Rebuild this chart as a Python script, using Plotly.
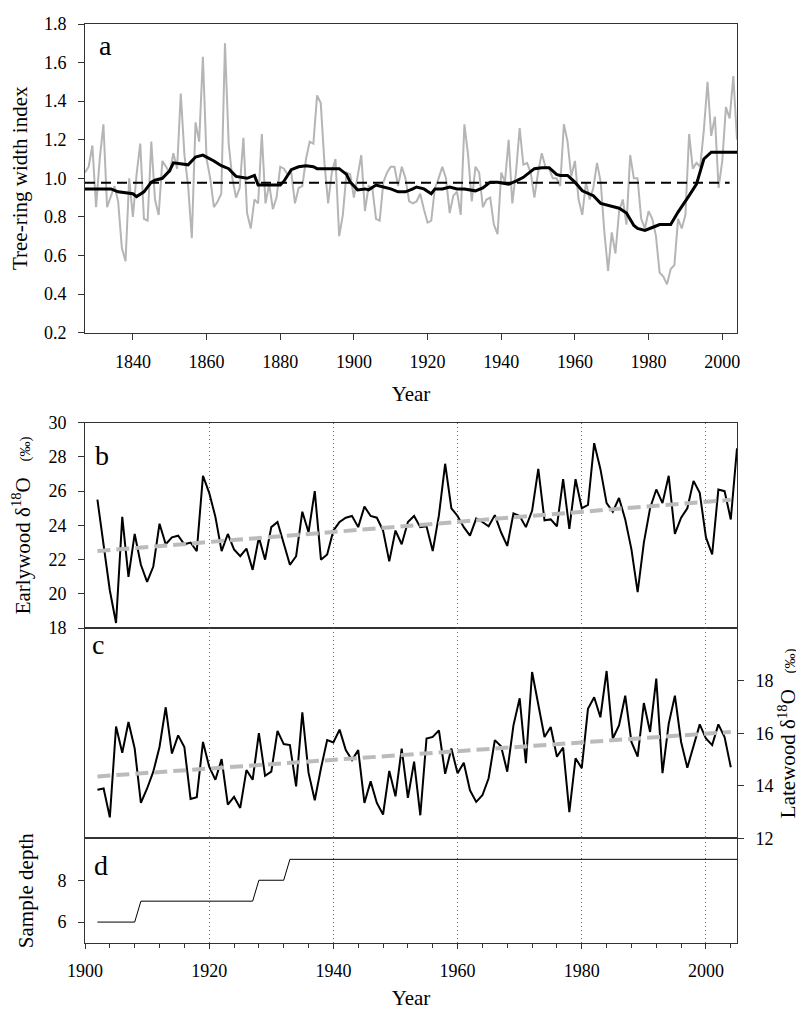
import plotly.graph_objects as go

# ---- panel a : tree-ring width index ----
ring_years = list(range(1827, 2005))
ring_index = [
    1.03, 1.06, 1.17, 0.85, 1.10, 1.28, 0.85, 0.91, 0.96, 0.88,   # 1827-1836
    0.64, 0.57, 1.00, 0.80, 1.02, 1.18, 0.79, 0.78, 1.19, 0.89,   # 1837-1846
    0.81, 1.09, 1.06, 1.03, 1.13, 1.05, 1.44, 1.12, 0.96, 0.69,   # 1847-1856
    1.29, 1.19, 1.63, 1.10, 1.00, 0.85, 0.88, 0.92, 1.70, 1.18,   # 1857-1866
    1.00, 0.90, 0.95, 1.21, 0.82, 0.74, 0.89, 0.87, 1.23, 0.87,   # 1867-1876
    0.97, 0.84, 0.90, 1.06, 1.05, 1.02, 1.03, 0.87, 0.95, 0.96,   # 1877-1886
    1.10, 1.19, 1.18, 1.43, 1.39, 1.08, 0.87, 1.03, 1.10, 0.70,   # 1887-1896
    0.81, 1.03, 1.02, 0.90, 1.01, 1.12, 0.83, 0.96, 0.95, 0.79,   # 1897-1906
    0.78, 0.98, 1.03, 1.06, 1.06, 0.96, 1.06, 1.00, 0.88, 0.87,   # 1907-1916
    0.88, 0.92, 0.84, 0.77, 0.78, 0.95, 1.00, 1.06, 1.00, 0.82,   # 1917-1926
    0.91, 0.93, 0.81, 1.28, 1.12, 0.88, 1.06, 1.03, 0.85, 0.89,   # 1927-1936
    0.90, 0.76, 0.71, 1.03, 0.98, 1.20, 0.87, 1.03, 1.26, 1.07,   # 1937-1946
    1.08, 1.03, 0.90, 1.03, 1.13, 1.06, 1.05, 1.00, 1.00, 0.96,   # 1947-1956
    1.28, 1.19, 1.01, 1.09, 0.89, 0.81, 0.98, 0.89, 0.95, 1.08,   # 1957-1966
    0.98, 0.72, 0.52, 0.72, 0.61, 0.83, 0.89, 0.76, 1.12, 1.00,   # 1967-1976
    1.00, 0.79, 0.74, 0.83, 0.79, 0.70, 0.51, 0.49, 0.45, 0.53,   # 1977-1986
    0.55, 0.79, 0.74, 0.81, 1.23, 1.05, 1.08, 1.06, 1.25, 1.50,   # 1987-1996
    1.22, 1.32, 0.95, 1.09, 1.37, 1.31, 1.53, 1.20,               # 1997-2004
]
smooth_years = [
    1827, 1834, 1836, 1838, 1840, 1841, 1843, 1845, 1846, 1848, 1850, 1851,
    1853, 1855, 1857, 1859, 1860, 1862, 1864, 1866, 1868, 1870, 1871, 1873,
    1874, 1880, 1881, 1883, 1885, 1887, 1889, 1890, 1896, 1898, 1899, 1901,
    1903, 1904, 1906, 1908, 1910, 1912, 1914, 1916, 1917, 1919, 1921, 1922,
    1924, 1926, 1928, 1930, 1933, 1935, 1937, 1939, 1942, 1944, 1946, 1947,
    1949, 1951, 1953, 1955, 1956, 1958, 1960, 1962, 1965, 1967, 1969, 1972,
    1974, 1975, 1976, 1977, 1979, 1981, 1983, 1986, 1988, 1991, 1993, 1995,
    1997, 2004,
]
smooth_index = [
    0.945, 0.945, 0.93, 0.925, 0.92, 0.905, 0.93, 0.98, 0.99, 1.0, 1.04, 1.08,
    1.075, 1.07, 1.11, 1.12, 1.11, 1.09, 1.065, 1.05, 1.01, 1.005, 1.0, 1.015,
    0.965, 0.965, 0.985, 1.045, 1.06, 1.065, 1.06, 1.05, 1.05, 1.02, 0.98, 0.94,
    0.945, 0.94, 0.965, 0.955, 0.945, 0.93, 0.93, 0.945, 0.955, 0.945, 0.92, 0.945,
    0.945, 0.955, 0.945, 0.945, 0.935, 0.95, 0.98, 0.98, 0.97, 0.985, 1.005, 1.02,
    1.05, 1.055, 1.055, 1.02, 1.015, 1.015, 0.98, 0.935, 0.91, 0.87, 0.86, 0.845,
    0.82, 0.79, 0.755, 0.74, 0.73, 0.745, 0.76, 0.76, 0.825, 0.91, 0.97, 1.10,
    1.135, 1.135,
]
mean_years = [1827, 2002]
mean_index = [0.977, 0.977]

# ---- panel b : earlywood d18O ----
early_years = list(range(1902, 2006))
early_d18o = [
    25.5, 22.7, 20.2, 18.3, 24.5, 21.0, 23.5, 21.7, 20.7, 21.6,   # 1902-1911
    24.1, 22.9, 23.3, 23.4, 22.9, 23.0, 22.5, 26.9, 25.9, 24.5,   # 1912-1921
    22.5, 23.5, 22.6, 22.2, 22.65, 21.4, 23.3, 22.0, 23.9, 24.2,  # 1922-1931
    23.0, 21.7, 22.2, 24.8, 23.6, 26.0, 22.0, 22.3, 23.7, 24.2,   # 1932-1941
    24.45, 24.55, 23.9, 25.1, 24.55, 24.45, 23.7, 21.9, 23.7, 22.9,  # 1942-1951
    24.2, 24.55, 23.9, 23.95, 22.5, 24.6, 27.6, 25.0, 24.55, 23.9,  # 1952-1961
    23.4, 24.4, 24.2, 23.95, 24.6, 23.6, 22.8, 24.7, 24.55, 23.9,   # 1962-1971
    24.85, 27.3, 24.3, 24.35, 23.95, 26.7, 23.8, 26.7, 25.0, 25.2,  # 1972-1981
    28.8, 27.3, 25.3, 24.8, 25.6, 24.35, 22.6, 20.1, 23.0, 25.0,    # 1982-1991
    26.1, 25.3, 26.9, 23.5, 24.45, 25.0, 26.6, 25.9, 23.3, 22.3,    # 1992-2001
    26.1, 26.0, 24.35, 28.5,                                        # 2002-2005
]
early_trend_years = [1902, 2004]
early_trend = [22.5, 25.5]

# ---- panel c : latewood d18O ----
late_years = list(range(1902, 2005))
late_d18o = [
    13.85, 13.9, 12.8, 16.26, 15.26, 16.43, 15.42, 13.35, 13.9, 14.54,   # 1902-1911
    15.48, 16.99, 15.23, 15.92, 15.48, 13.5, 13.57, 15.67, 14.73, 14.23,  # 1912-1921
    15.02, 13.29, 13.58, 13.16, 14.6, 14.23, 16.01, 14.38, 14.54, 16.09,  # 1922-1931
    15.59, 15.55, 13.98, 16.8, 14.5, 13.45, 14.67, 15.74, 15.65, 16.14,   # 1932-1941
    15.36, 14.98, 15.36, 13.35, 14.17, 13.35, 12.91, 14.57, 13.6, 15.42,  # 1942-1951
    13.54, 14.92, 12.88, 15.8, 15.86, 16.11, 14.46, 15.42, 14.48, 14.88,  # 1952-1961
    13.83, 13.39, 13.64, 14.29, 15.74, 15.51, 14.54, 16.3, 17.33, 14.86,  # 1962-1971
    18.33, 17.12, 15.86, 16.24, 15.11, 15.46, 13.0, 15.05, 14.67, 16.93,  # 1972-1981
    17.37, 16.61, 18.37, 15.8, 16.3, 17.43, 15.67, 15.11, 17.15, 16.05,   # 1982-1991
    18.08, 14.48, 16.36, 17.43, 15.67, 14.69, 15.55, 16.34, 15.8, 15.55,  # 1992-2001
    16.34, 15.86, 14.71,                                                  # 2002-2004
]
late_trend_years = [1902, 2004]
late_trend = [14.36, 16.05]

# ---- panel d : sample depth ----
depth_years = [1902, 1908, 1909, 1927, 1928, 1932, 1933, 2005]
depth = [6, 6, 7, 7, 8, 8, 9, 9]

FONT = "Liberation Serif"
AX = "#333333"
GRAY = "#b5b5b5"
PERMIL = "δ<sup>18</sup>O&nbsp;&nbsp;&nbsp;<span style='font-size:15px'>(‰)</span>"

fig = go.Figure()

# a
fig.add_trace(go.Scatter(x=ring_years, y=ring_index, mode="lines",
                         line=dict(color=GRAY, width=2), xaxis="x", yaxis="y"))
fig.add_trace(go.Scatter(x=mean_years, y=mean_index, mode="lines",
                         line=dict(color="black", width=2, dash="10px,6px"), xaxis="x", yaxis="y"))
fig.add_trace(go.Scatter(x=smooth_years, y=smooth_index, mode="lines",
                         line=dict(color="black", width=3), xaxis="x", yaxis="y"))
# b
fig.add_trace(go.Scatter(x=early_years, y=early_d18o, mode="lines",
                         line=dict(color="black", width=2), xaxis="x2", yaxis="y2"))
fig.add_trace(go.Scatter(x=early_trend_years, y=early_trend, mode="lines",
                         line=dict(color="#bbbbbb", width=4, dash="13px,6px"), xaxis="x2", yaxis="y2"))
# c
fig.add_trace(go.Scatter(x=late_years, y=late_d18o, mode="lines",
                         line=dict(color="black", width=2), xaxis="x3", yaxis="y3"))
fig.add_trace(go.Scatter(x=late_trend_years, y=late_trend, mode="lines",
                         line=dict(color="#bbbbbb", width=4, dash="13px,6px"), xaxis="x3", yaxis="y3"))
# d
fig.add_trace(go.Scatter(x=depth_years, y=depth, mode="lines",
                         line=dict(color="black", width=1), xaxis="x4", yaxis="y4"))

common = dict(showline=True, linecolor=AX, linewidth=1, mirror=True, zeroline=False,
              tickcolor=AX, tickfont=dict(family=FONT, size=18, color="black"))
grid = dict(showgrid=True, gridcolor="#666666", gridwidth=1, griddash="1px,3px",
            tick0=1900, dtick=20)
ttl = dict(family=FONT, size=21, color="black")

fig.update_layout(
    width=804, height=1009,
    margin=dict(l=77, r=75, t=6, b=74),
    paper_bgcolor="white", plot_bgcolor="white",
    showlegend=False,
    font=dict(family=FONT, color="black"),
    xaxis=dict(**common, anchor="y", domain=[0, 1], range=[1827, 2004],
               tickvals=[1840, 1860, 1880, 1900, 1920, 1940, 1960, 1980, 2000],
               ticks="outside", ticklen=6, ticklabelstandoff=7, showgrid=False,
               title=dict(text="Year", font=ttl, standoff=15)),
    yaxis=dict(**common, anchor="x", domain=[0.6642, 1], range=[0.2, 1.8], dtick=0.2,
               tickformat=".1f", ticks="outside", ticklen=6, ticklabelstandoff=8,
               showgrid=False,
               title=dict(text="Tree-ring width index", font=ttl, standoff=14)),
    xaxis2=dict(**common, **grid, anchor="y2", domain=[0, 1], range=[1900, 2005],
                showticklabels=False, ticks=""),
    yaxis2=dict(**common, anchor="x2", domain=[0.3426, 0.5662], range=[18, 30], dtick=2,
                ticks="outside", ticklen=6, ticklabelstandoff=8, showgrid=False,
                title=dict(text="Earlywood " + PERMIL, font=ttl, standoff=14)),
    xaxis3=dict(**common, **grid, anchor="y3", domain=[0, 1], range=[1900, 2005],
                showticklabels=False, ticks=""),
    yaxis3=dict(**common, anchor="x3", side="right", domain=[0.1138, 0.3426], range=[12, 20],
                tickvals=[12, 14, 16, 18], ticks="outside", ticklen=6, ticklabelstandoff=8,
                showgrid=False,
                title=dict(text="Latewood " + PERMIL, font=ttl, standoff=6)),
    xaxis4=dict(**common, **grid, anchor="y4", domain=[0, 1], range=[1900, 2005],
                ticks="outside", ticklen=5, ticklabelstandoff=6,
                minor=dict(dtick=4, tick0=1900, ticks="outside", ticklen=4, tickcolor=AX, showgrid=False),
                title=dict(text="Year", font=ttl, standoff=10)),
    yaxis4=dict(**common, anchor="x4", domain=[0, 0.1138], range=[5, 10], tickvals=[6, 8],
                ticks="outside", ticklen=6, ticklabelstandoff=8, showgrid=False,
                title=dict(text="Sample depth", font=ttl, standoff=18)),
)

letters = [("a", "x", "y", 0.031, 0.93), ("b", "x2", "y2", 0.026, 0.84),
           ("c", "x3", "y3", 0.02, 0.92), ("d", "x4", "y4", 0.025, 0.74)]
for txt, xr, yr, xx, yy in letters:
    fig.add_annotation(text=txt, xref=xr + " domain", yref=yr + " domain", x=xx, y=yy,
                       xanchor="center", yanchor="middle", showarrow=False,
                       font=dict(family=FONT, size=28, color="black"))

fig.write_html("out.html")
